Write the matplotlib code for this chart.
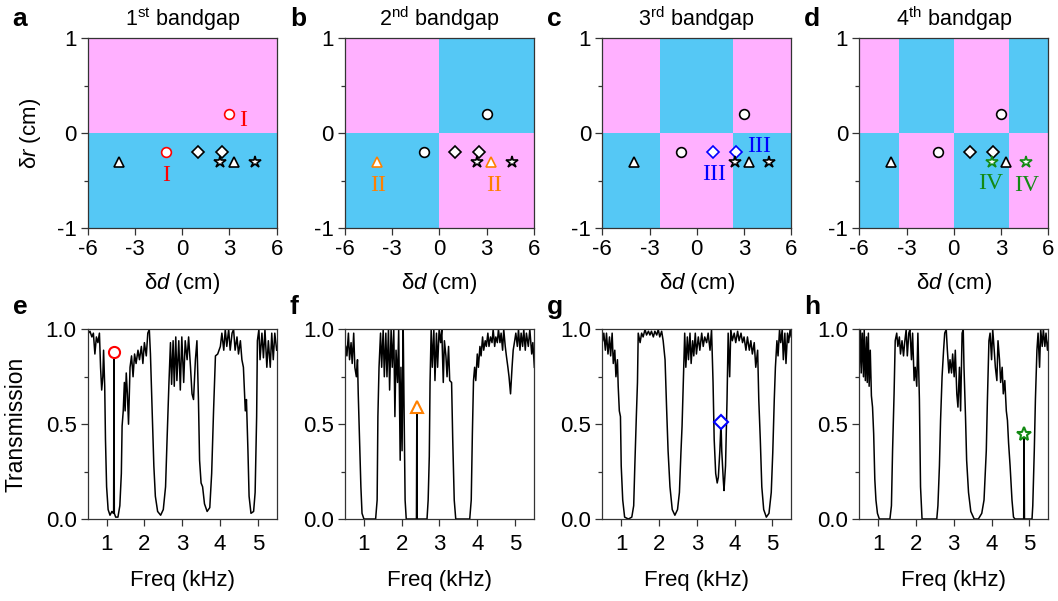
import matplotlib
matplotlib.use("Agg")
import matplotlib.pyplot as plt
from matplotlib.patches import Rectangle
from matplotlib.ticker import MultipleLocator

plt.rcParams['font.family'] = ['Liberation Sans', 'DejaVu Sans']
plt.rcParams['mathtext.fontset'] = 'custom'
plt.rcParams['mathtext.rm'] = 'Liberation Sans'
plt.rcParams['mathtext.it'] = 'Liberation Sans:italic'
plt.rcParams['font.size'] = 16

# ---------------- data ----------------
panel_letters_top = ['a', 'b', 'c', 'd']
panel_letters_bot = ['e', 'f', 'g', 'h']
titles = [r'1$^{\rm st}$ bandgap', r'2$^{\rm nd}$ bandgap', r'3$^{\rm rd}$ bandgap', r'4$^{\rm th}$ bandgap']

# parameter-space sample points (delta d, delta r)
circle_d = [-1.0, 3.0]
circle_r = [-0.2, 0.2]
diamond_d = [1.0, 2.5]
diamond_r = [-0.2, -0.2]
triangle_d = [-4.0, 3.3]
triangle_r = [-0.3, -0.3]
star_d = [2.4, 4.6]
star_r = [-0.3, -0.3]

# phase-map column boundaries in delta d (first column: upper half pink)
bounds_a = [-6, 6]
bounds_b = [-6, 0, 6]
bounds_c = [-6, -2.35, 2.33, 6]
bounds_d = [-6, -3.5, 0, 3.5, 6]

highlight_color = ['#FF0000', '#FF8000', '#0000FF', '#138A13']
roman = ['I', 'II', 'III', 'IV']
label_pos_a = [(3.85, 0.14), (-1.05, -0.44)]
label_pos_b = [(-3.9, -0.55), (3.45, -0.55)]
label_pos_c = [(1.1, -0.43), (3.95, -0.14)]
label_pos_d = [(2.35, -0.53), (4.65, -0.55)]

# transmission spectra
freq_e = [0.52, 0.56, 0.61, 0.65, 0.69, 0.73, 0.77, 0.81, 0.84, 0.87, 0.90, 0.92, 0.95, 0.97, 1.00, 1.04,
          1.09, 1.14, 1.18, 1.186, 1.195, 1.204, 1.24, 1.30, 1.35, 1.39, 1.41, 1.44, 1.47, 1.49, 1.52, 1.55,
          1.58, 1.62, 1.66, 1.70, 1.74, 1.78, 1.83, 1.87, 1.92, 1.96, 2.00, 2.05, 2.09, 2.13, 2.16, 2.21,
          2.25, 2.29, 2.35, 2.43, 2.50, 2.56, 2.60, 2.65, 2.69, 2.72, 2.76, 2.79, 2.83, 2.86, 2.91, 2.95,
          2.99, 3.04, 3.08, 3.13, 3.17, 3.22, 3.26, 3.30, 3.35, 3.39, 3.43, 3.46, 3.50, 3.54, 3.59, 3.66,
          3.73, 3.78, 3.83, 3.88, 3.94, 4.01, 4.05, 4.10, 4.14, 4.18, 4.23, 4.27, 4.32, 4.36, 4.40, 4.45,
          4.49, 4.54, 4.58, 4.62, 4.67, 4.70, 4.74, 4.77, 4.82, 4.89, 4.93, 4.97, 4.99, 5.03, 5.06, 5.11,
          5.15, 5.19, 5.24, 5.28, 5.33, 5.37, 5.41, 5.45, 5.50]
trans_e = [0.98, 0.99, 0.96, 0.98, 0.87, 0.96, 0.93, 0.98, 0.80, 0.68, 0.75, 0.89, 0.70, 0.42, 0.17, 0.05,
           0.02, 0.04, 0.03, 0.03, 0.86, 0.03, 0.01, 0.01, 0.07, 0.24, 0.49, 0.57, 0.72, 0.57, 0.77, 0.66,
           0.50, 0.80, 0.86, 0.75, 0.87, 0.82, 0.89, 0.84, 0.91, 0.82, 0.93, 0.86, 0.98, 1.00, 0.87, 0.54,
           0.28, 0.12, 0.04, 0.02, 0.05, 0.17, 0.42, 0.72, 0.93, 0.71, 0.94, 0.70, 0.96, 0.73, 0.94, 0.68,
           0.96, 0.72, 0.94, 0.84, 0.96, 0.80, 0.66, 0.63, 0.84, 0.94, 0.63, 0.31, 0.19, 0.17, 0.08, 0.04,
           0.06, 0.24, 0.57, 0.86, 0.87, 0.91, 0.98, 0.89, 1.00, 0.91, 1.00, 0.89, 0.98, 1.00, 0.89, 0.96,
           0.87, 0.94, 0.84, 0.80, 0.57, 0.63, 0.36, 0.12, 0.03, 0.04, 0.14, 0.54, 0.94, 1.00, 0.84, 0.98,
           0.85, 1.00, 0.80, 0.94, 0.80, 0.98, 0.84, 0.98, 0.89]

freq_f = [0.52, 0.55, 0.59, 0.62, 0.66, 0.69, 0.73, 0.76, 0.80, 0.83, 0.85, 0.88, 0.92, 0.95, 1.00, 1.15,
          1.31, 1.35, 1.37, 1.40, 1.44, 1.47, 1.51, 1.54, 1.58, 1.61, 1.65, 1.68, 1.72, 1.75, 1.79, 1.82,
          1.85, 1.89, 1.92, 1.96, 1.98, 2.01, 2.04, 2.06, 2.09, 2.12, 2.39, 2.40, 2.41, 2.67, 2.70, 2.73,
          2.75, 2.78, 2.81, 2.85, 2.88, 2.92, 2.95, 2.99, 3.03, 3.06, 3.10, 3.13, 3.17, 3.20, 3.24, 3.27,
          3.32, 3.35, 3.39, 3.43, 3.80, 3.84, 3.87, 3.90, 3.93, 3.96, 4.00, 4.03, 4.07, 4.10, 4.14, 4.17,
          4.21, 4.24, 4.28, 4.31, 4.35, 4.39, 4.42, 4.46, 4.49, 4.53, 4.56, 4.60, 4.63, 4.67, 4.70, 4.74,
          4.77, 4.81, 4.84, 4.88, 4.92, 4.95, 4.99, 5.02, 5.06, 5.09, 5.13, 5.16, 5.20, 5.23, 5.27, 5.30,
          5.35, 5.39, 5.44, 5.47, 5.51]
trans_f = [0.91, 0.86, 0.98, 0.84, 0.93, 0.82, 0.98, 0.80, 0.75, 0.84, 0.66, 0.45, 0.17, 0.03, 0.00, 0.00,
           0.00, 0.10, 0.54, 0.80, 0.98, 0.80, 1.00, 0.75, 0.98, 0.75, 1.00, 0.68, 1.00, 0.80, 1.00, 0.54,
           0.89, 0.72, 1.00, 0.31, 0.80, 0.36, 1.00, 0.63, 0.10, 0.00, 0.00, 0.56, 0.00, 0.00, 0.10, 0.33,
           0.72, 1.00, 0.80, 1.00, 0.73, 0.98, 0.80, 1.00, 0.93, 1.00, 0.72, 0.94, 0.86, 0.75, 0.91, 0.73,
           0.72, 0.42, 0.10, 0.00, 0.00, 0.10, 0.45, 0.73, 0.80, 0.73, 0.87, 0.80, 0.91, 0.86, 0.96, 0.89,
           0.94, 0.91, 0.98, 0.91, 0.96, 0.93, 1.00, 0.91, 0.96, 0.93, 1.00, 0.93, 0.98, 0.89, 1.00, 0.91,
           0.86, 0.80, 0.75, 0.66, 0.80, 0.89, 0.94, 0.98, 0.91, 1.00, 0.89, 0.98, 0.91, 1.00, 0.89, 0.98,
           0.91, 1.00, 0.87, 0.93, 0.80]

freq_g = [0.51, 0.54, 0.58, 0.61, 0.65, 0.69, 0.72, 0.76, 0.79, 0.83, 0.86, 0.90, 0.92, 0.95, 0.98, 1.00,
          1.04, 1.09, 1.19, 1.28, 1.33, 1.36, 1.40, 1.43, 1.45, 1.50, 1.54, 1.58, 1.63, 1.67, 1.72, 1.76,
          1.80, 1.85, 1.89, 1.94, 1.98, 2.02, 2.07, 2.11, 2.16, 2.20, 2.24, 2.29, 2.35, 2.42, 2.49, 2.54,
          2.58, 2.61, 2.64, 2.68, 2.71, 2.75, 2.78, 2.82, 2.85, 2.89, 2.92, 2.96, 2.99, 3.04, 3.08, 3.13,
          3.17, 3.21, 3.26, 3.30, 3.35, 3.39, 3.43, 3.46, 3.50, 3.54, 3.57, 3.61, 3.64, 3.66, 3.70, 3.72,
          3.76, 3.80, 3.83, 3.87, 3.90, 3.94, 3.99, 4.03, 4.08, 4.12, 4.17, 4.21, 4.25, 4.30, 4.34, 4.39,
          4.43, 4.47, 4.52, 4.56, 4.61, 4.64, 4.68, 4.72, 4.77, 4.84, 4.91, 4.97, 5.01, 5.05, 5.08, 5.12,
          5.15, 5.19, 5.22, 5.26, 5.29, 5.33, 5.36, 5.40, 5.43, 5.47, 5.50]
trans_g = [0.94, 0.98, 0.89, 0.98, 0.87, 0.96, 0.86, 0.98, 0.82, 0.89, 0.75, 0.84, 0.70, 0.57, 0.54, 0.28,
           0.10, 0.01, 0.00, 0.01, 0.07, 0.28, 0.54, 0.72, 0.98, 0.93, 0.98, 0.96, 1.00, 0.97, 0.99, 0.97,
           0.99, 0.96, 0.99, 0.97, 1.00, 0.96, 0.99, 0.94, 0.84, 0.59, 0.36, 0.17, 0.05, 0.02, 0.05, 0.14,
           0.35, 0.49, 0.70, 0.98, 0.80, 0.96, 0.84, 0.98, 0.82, 0.94, 0.86, 0.98, 0.87, 0.96, 0.89, 0.98,
           0.91, 0.96, 0.93, 0.98, 0.89, 1.00, 0.72, 0.42, 0.24, 0.19, 0.22, 0.36, 0.51, 0.36, 0.21, 0.15,
           0.28, 0.63, 0.98, 0.75, 1.00, 0.94, 0.98, 0.93, 0.99, 0.94, 0.98, 0.93, 0.96, 0.89, 0.96, 0.89,
           0.94, 0.87, 0.93, 0.80, 0.89, 0.63, 0.42, 0.17, 0.05, 0.01, 0.03, 0.14, 0.35, 0.63, 0.80, 0.94,
           0.86, 1.00, 0.93, 1.00, 0.84, 0.98, 0.82, 0.98, 0.93, 1.00, 0.96]

freq_h = [0.50, 0.53, 0.55, 0.58, 0.61, 0.63, 0.66, 0.69, 0.71, 0.74, 0.76, 0.79, 0.82, 0.85, 0.88, 0.91,
          0.94, 0.98, 1.03, 1.31, 1.35, 1.38, 1.42, 1.45, 1.49, 1.52, 1.56, 1.59, 1.63, 1.67, 1.70, 1.74,
          1.77, 1.81, 1.84, 1.88, 1.91, 1.95, 1.98, 2.02, 2.05, 2.09, 2.12, 2.16, 2.55, 2.58, 2.62, 2.65,
          2.69, 2.73, 2.76, 2.80, 2.83, 2.87, 2.90, 2.94, 2.97, 3.01, 3.04, 3.08, 3.11, 3.15, 3.18, 3.22,
          3.25, 3.27, 3.31, 3.34, 3.39, 3.45, 3.54, 3.65, 3.74, 3.80, 3.86, 3.89, 3.93, 3.96, 4.00, 4.03,
          4.07, 4.10, 4.14, 4.17, 4.21, 4.24, 4.28, 4.31, 4.35, 4.39, 4.42, 4.45, 4.49, 4.54, 4.58, 4.62,
          4.85, 4.86, 4.87, 5.07, 5.09, 5.13, 5.16, 5.20, 5.23, 5.27, 5.30, 5.34, 5.37, 5.41, 5.44, 5.48,
          5.52]
trans_h = [0.80, 1.00, 0.77, 0.98, 0.75, 1.00, 0.73, 0.96, 0.72, 0.98, 0.70, 0.89, 0.65, 0.59, 0.45, 0.21,
           0.10, 0.03, 0.00, 0.00, 0.07, 0.36, 0.66, 0.94, 0.98, 0.91, 0.96, 0.87, 0.94, 0.86, 0.93, 1.00,
           0.86, 0.98, 1.00, 0.84, 0.98, 0.73, 0.80, 0.70, 0.98, 0.63, 0.17, 0.00, 0.00, 0.07, 0.28, 0.52,
           0.75, 0.89, 0.98, 1.00, 0.89, 0.77, 0.84, 0.77, 0.87, 0.75, 0.89, 0.66, 0.59, 0.80, 0.57, 0.98,
           1.00, 0.80, 0.54, 0.31, 0.14, 0.04, 0.00, 0.00, 0.03, 0.10, 0.36, 0.63, 0.94, 0.98, 0.84, 1.00,
           0.89, 0.80, 0.73, 0.94, 0.84, 0.72, 0.80, 0.66, 0.73, 0.57, 0.52, 0.40, 0.28, 0.10, 0.01, 0.00,
           0.00, 0.43, 0.00, 0.00, 0.07, 0.36, 0.63, 0.89, 0.98, 0.80, 1.00, 0.91, 1.00, 0.91, 0.98, 0.89,
           0.96]

marker_freq = [1.19, 2.40, 3.63, 4.86]
marker_trans = [0.88, 0.59, 0.51, 0.45]

# ---------------- styling ----------------
PINK = '#FFB0FF'
BLUE = '#55C8F5'
FRAME = '#333333'
markers = ['o', '^', 'D', '*']
msizes = [7, 7.5, 6, 9]

fig = plt.figure(figsize=(10.58, 6.01), dpi=100)
lefts = [0.0829, 0.3261, 0.5693, 0.8122]
width = 0.1786
top_b, top_h = 0.620, 0.316
bot_b, bot_h = 0.1364, 0.3156

bounds_all = [bounds_a, bounds_b, bounds_c, bounds_d]
label_pos_all = [label_pos_a, label_pos_b, label_pos_c, label_pos_d]
point_sets = [(circle_d, circle_r), (triangle_d, triangle_r), (diamond_d, diamond_r), (star_d, star_r)]
spectra = [(freq_e, trans_e), (freq_f, trans_f), (freq_g, trans_g), (freq_h, trans_h)]


def style_axes(ax):
    for s in ax.spines.values():
        s.set_color(FRAME)
        s.set_linewidth(0.9)
    ax.tick_params(direction='out', length=5, width=0.9, color=FRAME, labelsize=16, pad=3)
    ax.tick_params(which='minor', direction='out', length=3, width=0.9, color=FRAME)
    ax.tick_params(top=False, right=False)


for i in range(4):
    ax = fig.add_axes([lefts[i], top_b, width, top_h])
    ax.set_xlim(-6, 6)
    ax.set_ylim(-1, 1)
    b = bounds_all[i]
    for k in range(len(b) - 1):
        upper = PINK if k % 2 == 0 else BLUE
        lower = BLUE if k % 2 == 0 else PINK
        ax.add_patch(Rectangle((b[k], 0), b[k + 1] - b[k], 1, facecolor=upper, edgecolor='none', zorder=0))
        ax.add_patch(Rectangle((b[k], -1), b[k + 1] - b[k], 1, facecolor=lower, edgecolor='none', zorder=0))
    for j, (dd, rr) in enumerate(point_sets):
        ec = highlight_color[i] if j == i else 'black'
        ax.plot(dd, rr, linestyle='none', marker=markers[j], markersize=msizes[j],
                markerfacecolor='white', markeredgecolor=ec, markeredgewidth=1.2, zorder=3)
    for (lx, ly) in label_pos_all[i]:
        ax.text(lx, ly, roman[i], color=highlight_color[i], fontsize=17,
                family='Liberation Serif', ha='center', va='center', zorder=4)
    ax.set_xticks([-6, -3, 0, 3, 6])
    ax.set_xticklabels(['-6', '-3', '0', '3', '6'])
    ax.set_yticks([-1, 0, 1])
    ax.set_yticklabels(['-1', '0', '1'])
    ax.yaxis.set_minor_locator(MultipleLocator(0.5))
    style_axes(ax)
    ax.set_xlabel(r'δ$\mathit{d}$ (cm)', fontsize=16)
    ax.xaxis.set_label_coords(0.5, -0.225)
    if i == 0:
        ax.set_ylabel(r'δ$\mathit{r}$ (cm)', fontsize=16)
        ax.yaxis.set_label_coords(-0.235, 0.5)
    ax.set_title(titles[i], fontsize=15.5, pad=9)
    fig.text(lefts[i] - 0.071 if i == 0 else lefts[i] - 0.052, 0.957, panel_letters_top[i],
             fontsize=19, fontweight='bold', ha='left', va='baseline')

for i in range(4):
    ax = fig.add_axes([lefts[i], bot_b, width, bot_h])
    fr, tr = spectra[i]
    ax.plot(fr, tr, color='black', lw=1.1, zorder=2)
    ax.plot([marker_freq[i]], [marker_trans[i]], linestyle='none', marker=markers[i],
            markersize=msizes[i] + 1, markerfacecolor='white', markeredgecolor=highlight_color[i],
            markeredgewidth=1.5, zorder=3)
    ax.set_xlim(0.5, 5.5)
    ax.set_ylim(0, 1)
    ax.set_xticks([1, 2, 3, 4, 5])
    ax.set_yticks([0, 0.5, 1.0])
    ax.set_yticklabels(['0.0', '0.5', '1.0'])
    ax.yaxis.set_minor_locator(MultipleLocator(0.25))
    style_axes(ax)
    ax.tick_params(axis='x', pad=6)
    ax.set_xlabel('Freq (kHz)', fontsize=16)
    ax.xaxis.set_label_coords(0.5, -0.27)
    if i == 0:
        ax.set_ylabel('Transmission', fontsize=16.5)
        ax.yaxis.set_label_coords(-0.32, 0.5)
    fig.text(lefts[i] - 0.071 if i == 0 else lefts[i] - 0.052, 0.478, panel_letters_bot[i],
             fontsize=19, fontweight='bold', ha='left', va='baseline')

fig.savefig('out.png', dpi=100)
